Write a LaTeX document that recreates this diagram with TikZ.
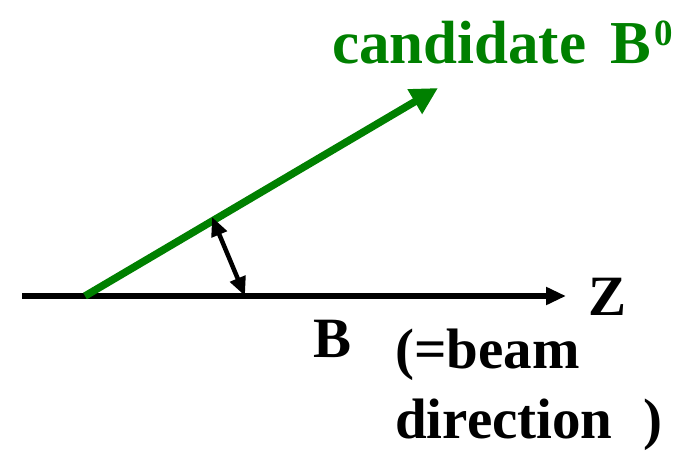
\documentclass[tikz,border=0pt]{standalone}
\usepackage{fontspec}
\setmainfont{Liberation Serif}[BoldFont={Liberation Serif Bold}]
\usepackage{tikz}
\usetikzlibrary{arrows.meta, positioning, calc}
\definecolor{candgreen}{RGB}{0,128,0}

\begin{document}
\begin{tikzpicture}[x=1pt, y=-1pt,
  lbl/.style={inner sep=0pt, anchor=base west, font=\bfseries\fontsize{57}{70}\selectfont},
  axisline/.style={line width=6.5pt, -{Triangle[length=20pt, width=17pt]}},
  candline/.style={line width=7.5pt, candgreen, -{Triangle[length=27pt, width=27pt]}},
  angarr/.style={line width=4.5pt, {Triangle[length=19pt, width=16pt]}-{Triangle[length=19pt, width=16pt]}}
]
\useasboundingbox (0,0) rectangle (684,453);

% beam axis and candidate direction
\coordinate (zstart) at (22,296);
\coordinate (zend) at (566,296);
\coordinate (vtx) at (85,296);
\coordinate (btip) at (438,88);
\coordinate (angtop) at (212,217);
\coordinate (angbot) at (245,296);

\draw[axisline] (zstart) -- (zend);
\draw[candline] (vtx) -- (btip);
\draw[angarr] (angtop) -- (angbot);

% labels
\node[lbl, text=candgreen, font=\bfseries\fontsize{61}{70}\selectfont] (candlbl) at (332,63)
  {candidate\hspace{24pt}B\hspace{3pt}\raisebox{18pt}{\fontsize{37}{40}\selectfont 0}};
\node[lbl] (zlbl) at (588,315) {Z};
\node[lbl] (blbl) at (313,357) {B};
\node[lbl, align=left] (beamlbl) at (395,438) {(=beam\\direction\hspace{31pt})};
\end{tikzpicture}
\end{document}
